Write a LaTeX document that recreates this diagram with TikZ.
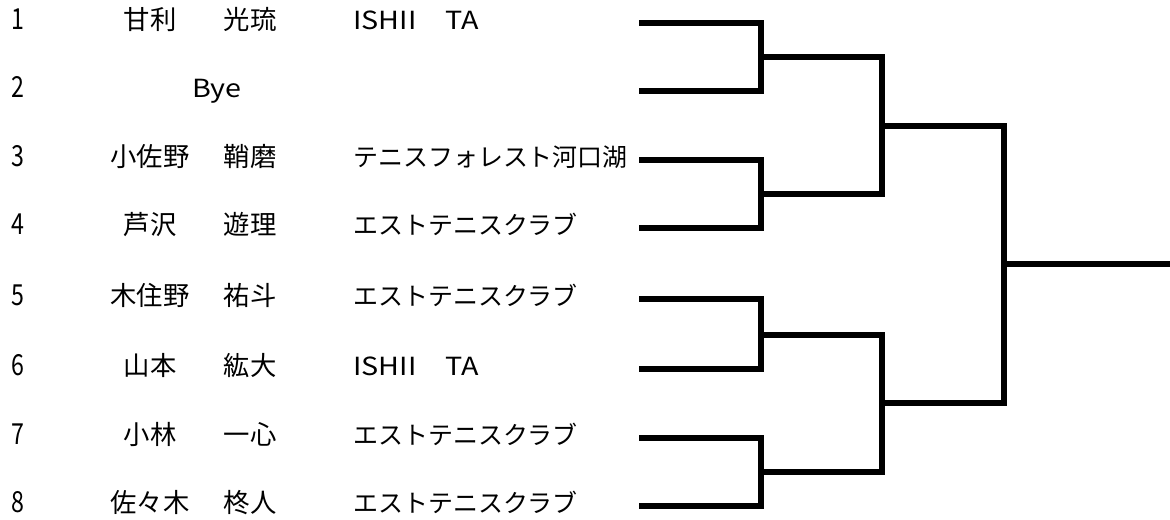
\documentclass[tikz,border=0pt]{standalone}
\usepackage{fontspec}
\setmainfont{Noto Sans CJK JP}
\newfontfamily\seedfont[FakeStretch=0.8]{Noto Sans CJK JP}
\newfontfamily\latinwide[FakeStretch=1.15]{Noto Sans CJK JP}

\tikzset{
  seed/.style={inner sep=0pt, text height=0.8em, text depth=0.06em, font=\seedfont\fontsize{16.5}{20}\selectfont},
  sname/.style={inner sep=0pt, text height=0.8em, text depth=0.06em, font=\fontsize{15}{18}\selectfont},
  club/.style={anchor=west, inner sep=0pt, text height=0.8em, text depth=0.06em, font=\fontsize{14.2}{17}\selectfont},
  bracket/.style={line width=3.1pt}
}

\begin{document}
\begin{tikzpicture}[x=0.02cm,y=-0.02cm]
 \useasboundingbox (0,0) rectangle (1170,520);

 % players
 \foreach \i/\y/\sur/\giv/\clb in {1/23/甘利/光琉/{\latinwide ISHII　TA},
   3/160/小佐野/鞘磨/テニスフォレスト河口湖,
   4/228/芦沢/遊理/エストテニスクラブ,
   5/299/木住野/祐斗/エストテニスクラブ,
   6/369/山本/紘大/{\latinwide ISHII　TA},
   7/438/小林/一心/エストテニスクラブ,
   8/506/佐々木/柊人/エストテニスクラブ}{
  \node[seed] (n\i) at (18,\y) {\i};
  \node[sname] (f\i) at (150,\y) {\sur};
  \node[sname] (g\i) at (250,\y) {\giv};
  \node[club] (c\i) at (353,\y) {\clb};
 }
 \node[seed] (n2) at (18,91) {2};
 \node[club, anchor=center] (bye) at (217,91) {\latinwide Bye};

 % bracket
 \foreach \i/\y in {1/23,2/91,3/160,4/228,5/299,6/369,7/438,8/506}
  \coordinate (s\i) at (639,\y);
 \coordinate (q1) at (761,57);
 \coordinate (q2) at (761,194);
 \coordinate (q3) at (761,335);
 \coordinate (q4) at (761,472);
 \coordinate (h1) at (882,126);
 \coordinate (h2) at (882,403);
 \coordinate (fin) at (1004,264);
 \coordinate (win) at (1170,264);

 \draw[bracket] (s1) -| (q1) |- (s2);
 \draw[bracket] (s3) -| (q2) |- (s4);
 \draw[bracket] (s5) -| (q3) |- (s6);
 \draw[bracket] (s7) -| (q4) |- (s8);
 \draw[bracket] (q1) -| (h1) |- (q2);
 \draw[bracket] (q3) -| (h2) |- (q4);
 \draw[bracket] (h1) -| (fin) |- (h2);
 \draw[bracket] (fin) -- (win);
\end{tikzpicture}
\end{document}
